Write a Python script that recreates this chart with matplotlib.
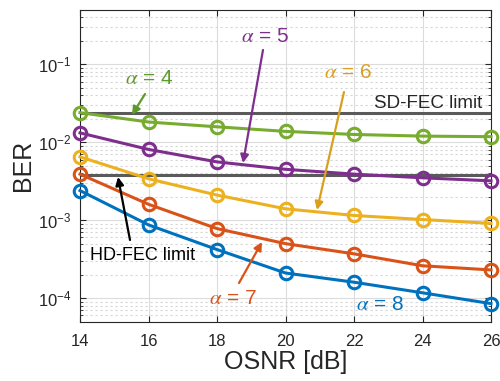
import matplotlib
matplotlib.use("Agg")
import matplotlib.pyplot as plt
import numpy as np
from matplotlib.ticker import LogLocator, NullFormatter

plt.rcParams['font.family'] = ['Liberation Sans', 'DejaVu Sans']
plt.rcParams['mathtext.fontset'] = 'stix'

osnr = [14, 16, 18, 20, 22, 24, 26]
ber_a4 = [0.0240, 0.0182, 0.0158, 0.0138, 0.0126, 0.0120, 0.0118]
ber_a5 = [0.0132, 0.0081, 0.0056, 0.0045, 0.0039, 0.0035, 0.0032]
ber_a6 = [0.0065, 0.0034, 0.0021, 0.0014, 0.00115, 0.00102, 0.00091]
ber_a7 = [0.0039, 0.0016, 0.00078, 0.00050, 0.00037, 0.00026, 0.00023]
ber_a8 = [0.0024, 0.00087, 0.00042, 0.00021, 0.00016, 0.000117, 0.000085]
sd_fec = 2.4e-2
hd_fec = 3.8e-3

colors = {'a4': '#77AC30', 'a5': '#7E2F8E', 'a6': '#EDB120',
          'a7': '#D95319', 'a8': '#0072BD'}

fig = plt.figure(figsize=(5, 3.81), dpi=100)
ax = fig.add_axes([0.16, 0.156, 0.822, 0.818])

# FEC limits
ax.plot([14, 26], [sd_fec, sd_fec], color='#5a5a5a', lw=2.2, zorder=2)
ax.plot([14, 26], [hd_fec, hd_fec], color='#5a5a5a', lw=2.2, zorder=2)

for key, ber in [('a4', ber_a4), ('a5', ber_a5), ('a6', ber_a6),
                 ('a7', ber_a7), ('a8', ber_a8)]:
    ax.plot(osnr, ber, color=colors[key], lw=2.2, marker='o', ms=9,
            mfc='none', mew=2.2, zorder=3, clip_on=False)

ax.set_yscale('log')
ax.set_xlim(14, 26)
ax.set_ylim(5e-5, 0.5)
ax.set_xticks(osnr)
ax.yaxis.set_major_locator(LogLocator(base=10, numticks=10))
ax.yaxis.set_minor_locator(LogLocator(base=10, subs=np.arange(2, 10), numticks=20))
ax.yaxis.set_minor_formatter(NullFormatter())

ax.grid(True, which='major', color='#dcdcdc', lw=0.8)
ax.grid(True, which='minor', axis='y', color='#d6d6d6', lw=0.8, ls=(0, (2, 2.5)))
ax.set_axisbelow(True)
ax.tick_params(which='both', direction='in', top=True, right=True,
               labelsize=12, colors='#262626')
ax.tick_params(axis='x', pad=9)
ax.tick_params(axis='y', pad=6)
ax.tick_params(which='major', length=4)
ax.tick_params(which='minor', length=2)
for s in ax.spines.values():
    s.set_color('#262626')
    s.set_linewidth(0.8)

ax.set_xlabel('OSNR [dB]', fontsize=18, color='#262626', labelpad=1)
ax.set_ylabel('BER', fontsize=18, color='#262626', labelpad=2)

def px(x, y):
    # pixel position (from top-left) -> figure fraction
    return (x / 500, 1 - y / 381)

def note(text, color, txy, tail, head, size=15):
    ax.annotate('', xy=px(*head), xycoords='figure fraction',
                xytext=px(*tail), textcoords='figure fraction',
                arrowprops=dict(arrowstyle='-|>', color=color, lw=1.6,
                                mutation_scale=12, shrinkA=0, shrinkB=0))
    fig.text(*px(*txy), text, color=color, fontsize=size,
             ha='center', va='center')

note(r'$\alpha$ = 4', '#5e9a2a', (149, 78), (145, 94), (132, 115))
note(r'$\alpha$ = 5', '#7E2F8E', (265, 37), (263, 50), (243, 163))
note(r'$\alpha$ = 6', '#D9A020', (348, 73), (344, 92), (317, 210))
note(r'$\alpha$ = 7', '#D95319', (233, 298), (239, 283), (262, 242))
note('HD-FEC limit', 'black', (143, 256), (130, 240), (118, 177), size=13)
fig.text(*px(380, 304), r'$\alpha$ = 8', color='#0072BD', fontsize=15,
         ha='center', va='center')
fig.text(*px(428, 103), 'SD-FEC limit', color='#262626', fontsize=13.5,
         ha='center', va='center')

fig.savefig('out.png', dpi=100)
